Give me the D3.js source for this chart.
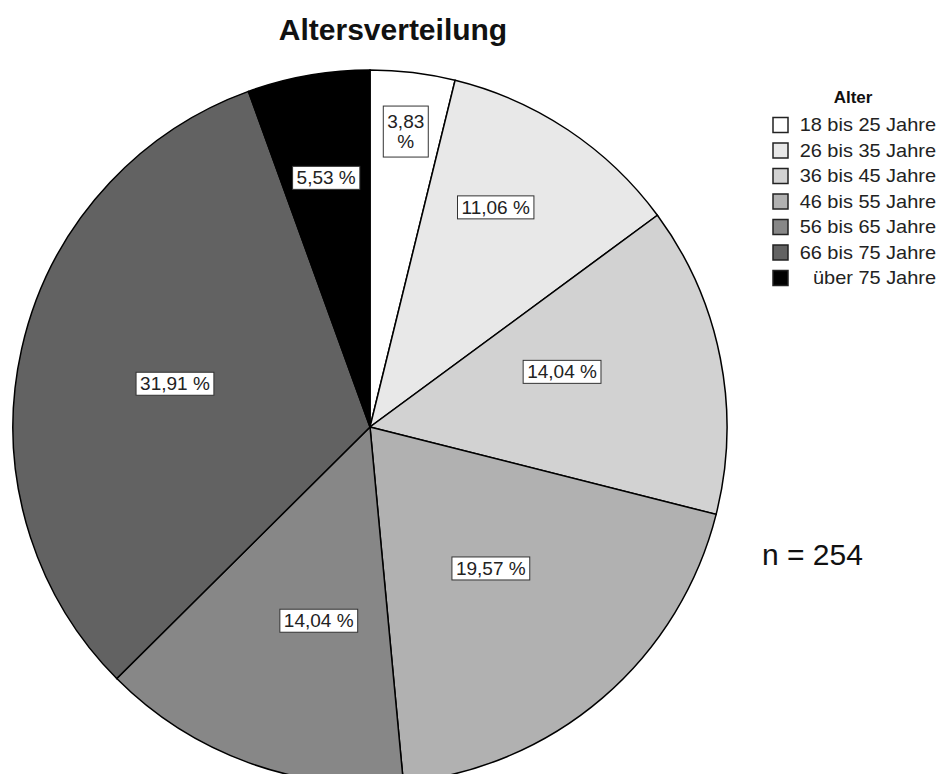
<!DOCTYPE html>
<html><head><meta charset="utf-8">
<script src="https://cdn.jsdelivr.net/npm/d3@7"></script>
<style>body{margin:0;background:#fff}svg{display:block}text{font-family:"Liberation Sans",Arial,sans-serif}</style>
</head><body><svg id="c" width="943" height="774"></svg>
<script>
const categories = ["18 bis 25 Jahre","26 bis 35 Jahre","36 bis 45 Jahre","46 bis 55 Jahre","56 bis 65 Jahre","66 bis 75 Jahre","über 75 Jahre"];
const counts = [9,26,33,46,33,75,13];
const percentLabels = ["3,83 %","11,06 %","14,04 %","19,57 %","14,04 %","31,91 %","5,53 %"];
const colors = ["#ffffff","#e8e8e8","#d2d2d2","#b1b1b1","#878787","#626262","#000000"];
const title = "Altersverteilung";
const legendTitle = "Alter";
const note = "n = 254";

const svg = d3.select("#c");
const cx = 370, cy = 427, r = 357;
const total = d3.sum(counts);
const pie = d3.pie().sort(null).value(d => d);
const arcs = pie(counts);
const arc = d3.arc().innerRadius(0).outerRadius(r);
const g = svg.append("g").attr("transform", `translate(${cx},${cy})`);
g.selectAll("path").data(arcs).join("path")
  .attr("d", arc).attr("fill", (d,i) => colors[i])
  .attr("stroke", "#000").attr("stroke-width", 1.5);

arcs.forEach((d,i) => {
  const frac = counts[i]/total;
  const f = frac < 0.05 ? 0.835 : frac < 0.12 ? 0.71 : frac > 0.18 && frac < 0.25 ? 0.52 : 0.56;
  const span = d.endAngle - d.startAngle;
  const a = (d.startAngle + d.endAngle)/2 - (frac > 0.08 && frac < 0.16 ? span*0.1 : 0);
  const x = Math.sin(a)*r*f, y = -Math.cos(a)*r*f;
  const lg = g.append("g").attr("transform", `translate(${x},${y})`);
  const lines = frac < 0.05 ? percentLabels[i].split(" ") : [percentLabels[i]];
  const t = lg.append("text").attr("text-anchor","middle").attr("font-size",19).attr("fill","#222");
  lines.forEach((l,k) => t.append("tspan").attr("x",0).attr("y", (k - (lines.length-1)/2)*20 + 7).text(l));
  const bb = t.node().getBBox();
  const pad = lines.length > 1 ? 5 : 1;
  lg.insert("rect","text").attr("x", bb.x-4).attr("y", bb.y-pad).attr("width", bb.width+8).attr("height", bb.height+2*pad)
    .attr("fill","#fff").attr("stroke","#333").attr("stroke-width",1);
});

svg.append("text").attr("x", 393).attr("y", 40).attr("text-anchor","middle")
  .attr("font-size", 30).attr("font-weight","bold").attr("fill","#111").text(title);

svg.append("text").attr("x", 853).attr("y", 103).attr("text-anchor","middle")
  .attr("font-size", 17).attr("font-weight","bold").attr("fill","#111").text(legendTitle);
const ly = d3.scalePoint().domain(categories).range([125, 278]);
const leg = svg.append("g");
categories.forEach((c,i) => {
  leg.append("rect").attr("x", 773).attr("y", ly(c)-7.5).attr("width", 15).attr("height", 15)
    .attr("fill", colors[i]).attr("stroke","#222").attr("stroke-width",1.5);
  leg.append("text").attr("transform", `translate(936,${ly(c)+6}) scale(1.05,1)`).attr("text-anchor","end")
    .attr("font-size", 19).attr("fill","#222").text(c);
});
svg.append("text").attr("x", 762).attr("y", 565).attr("font-size", 30).attr("fill","#111").text(note);
</script></body></html>
